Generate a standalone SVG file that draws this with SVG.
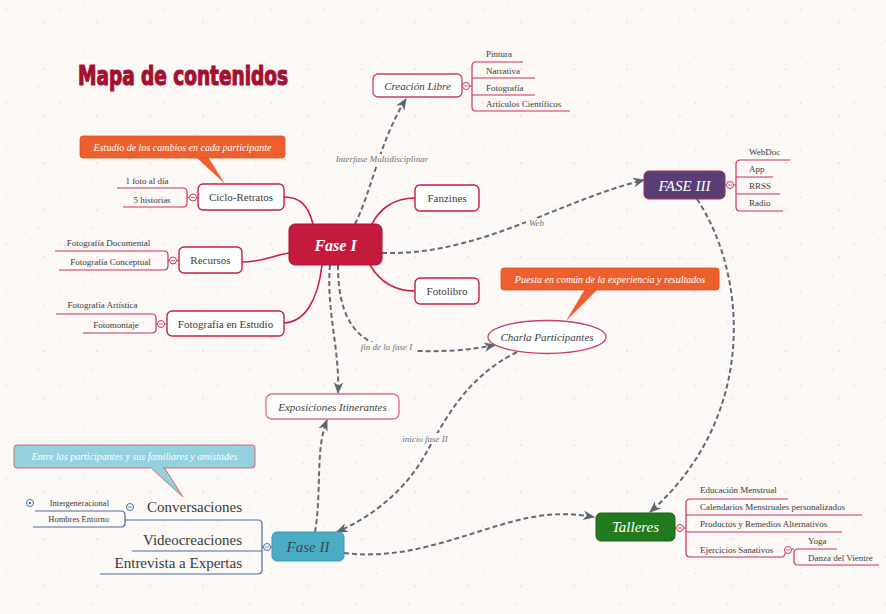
<svg xmlns="http://www.w3.org/2000/svg" width="886" height="614" viewBox="0 0 886 614">
<defs>
<pattern id="bgp" width="53" height="47" patternUnits="userSpaceOnUse">
<rect width="53" height="47" fill="#fcf8f6"/>
<ellipse cx="6" cy="9" rx="1" ry="0.6" fill="#f3cdb8"/>
<ellipse cx="31" cy="4" rx="0.8" ry="0.5" fill="#f5d8c8"/>
<ellipse cx="44" cy="22" rx="1.1" ry="0.6" fill="#f2c7b0"/>
<ellipse cx="17" cy="30" rx="0.7" ry="0.5" fill="#f5d5c4"/>
<ellipse cx="38" cy="40" rx="0.9" ry="0.5" fill="#f3cdb8"/>
<ellipse cx="9" cy="42" rx="0.6" ry="0.4" fill="#f6dccd"/>
<ellipse cx="26" cy="19" rx="0.6" ry="0.4" fill="#f6dccd"/>
</pattern>
<marker id="arr" markerUnits="userSpaceOnUse" markerWidth="12" markerHeight="12" viewBox="0 0 10 10" refX="9" refY="5" orient="auto">
<path d="M0,1 L10,5 L0,9 L3,5 z" fill="#5c6670"/>
</marker>
<style>
.t{font-family:"Liberation Serif","Times New Roman",serif;fill:#3a3a3a}
.n{font-size:11px;text-anchor:middle}
.i{font-style:italic}
.s{font-size:9px}
.m{text-anchor:middle}
.e{text-anchor:end}
.box{fill:#fff;stroke:#c8203f;stroke-width:1.4}
.br{fill:none;stroke:#c8335a;stroke-width:1.2}
.bb{fill:none;stroke:#4a6c9c;stroke-width:1.2}
.cc{fill:#fff;stroke:#c8335a;stroke-width:1}
.cb{fill:#fff;stroke:#4a6c9c;stroke-width:1}
.lk{fill:none;stroke:#c8203f;stroke-width:1.6}
.ds{fill:none;stroke:#5f6b78;stroke-width:2;stroke-dasharray:5 3;marker-end:url(#arr)}
.lbl{font-family:"Liberation Serif",serif;font-style:italic;font-size:9px;fill:#6a7480;text-anchor:middle}
.co{font-family:"Liberation Serif",serif;font-style:italic;font-size:10px;fill:#fff;text-anchor:middle}
.lb{fill:#fcf8f6}
</style>
</defs>
<rect width="886" height="614" fill="url(#bgp)"/>

<text x="78" y="85" font-family="'Liberation Sans Narrow','DejaVu Sans Condensed',sans-serif" font-weight="bold" font-size="26" textLength="210" lengthAdjust="spacingAndGlyphs" fill="#a50f30" stroke="#a50f30" stroke-width="1.1">Mapa de contenidos</text>

<g id="connectors">
<path class="lk" d="M284,197 C300,197 308,205 313,224"/>
<path class="lk" d="M242,262 C262,262 275,255 289,253"/>
<path class="lk" d="M284,323 C305,322 318,300 322,265"/>
<path class="lk" d="M372,224 C380,208 395,198 415,198"/>
<path class="lk" d="M370,265 C380,282 395,291 415,291"/>
<path class="ds" d="M355,224 C372,190 380,140 406,99"/>
<path class="ds" d="M382,253 C480,256 560,200 644,180"/>
<path class="ds" d="M697,199 C750,280 755,420 650,512"/>
<path class="ds" d="M338,265 C338,310 350,345 400,350 C440,353 470,350 495,345"/>
<path class="ds" d="M330,265 C326,310 340,350 338,393"/>
<path class="ds" d="M315,532 C322,490 315,450 327,420"/>
<path class="ds" d="M517,352 C465,378 445,420 425,455 C405,490 375,515 337,532"/>
<path class="ds" d="M344,553 C400,560 450,540 500,525 C540,513 565,512 594,517"/>
<rect class="lb" x="331" y="154" width="102" height="11"/>
<text class="lbl" x="382" y="162">Interfase Multidisciplinar</text>
<rect class="lb" x="526" y="218" width="21" height="11"/>
<text class="lbl" x="536.5" y="226">Web</text>
<rect class="lb" x="358" y="342" width="58" height="11"/>
<text class="lbl" x="386.5" y="350">fin de la fase I</text>
<rect class="lb" x="400" y="433" width="50" height="11"/>
<text class="lbl" x="425" y="442">inicio fase II</text>
</g>

<g id="callout1">
<polygon points="196,157 208,157 225,184" fill="#ee5f2e"/>
<rect x="80" y="136" width="205" height="22" rx="3" fill="#ee5f2e" stroke="#e05020" stroke-width="0.8"/>
<text class="co" x="182.5" y="151">Estudio de los cambios en cada participante</text>
</g>

<g id="fase1">
<rect x="289" y="224" width="93" height="41" rx="6" fill="#c41a3c" stroke="#a81232" stroke-width="1"/>
<text class="t" x="335.5" y="251" font-size="16" font-weight="bold" font-style="italic" text-anchor="middle" style="fill:#fff">Fase I</text>
</g>

<g id="ciclo">
<rect class="box" x="198" y="184" width="86" height="26" rx="5"/>
<text class="t n" x="241" y="201">Ciclo-Retratos</text>
<path class="br" d="M117,188 H183 Q187,188 187,192 V203 Q187,207 183,207 H123 M187,197.5 H189.5 M196.5,197.5 H198"/>
<circle class="cc" cx="193" cy="197.5" r="3.5"/>
<path d="M191,197.5 H195" stroke="#c8335a" stroke-width="0.8"/>
<text class="t s m" x="147" y="184">1 foto al día</text>
<text class="t s m" x="152" y="203">5 historias</text>
</g>

<g id="recursos">
<rect class="box" x="179" y="247" width="63" height="26" rx="5"/>
<text class="t n" x="210.5" y="264">Recursos</text>
<path class="br" d="M55,251 H164 Q168,251 168,255 V266 Q168,270 164,270 H59 M168,260.5 H169.5 M176.5,260.5 H179"/>
<circle class="cc" cx="173" cy="260.5" r="3.5"/>
<path d="M171,260.5 H175" stroke="#c8335a" stroke-width="0.8"/>
<text class="t s m" x="108.5" y="246">Fotografía Documental</text>
<text class="t s m" x="110.5" y="265">Fotografía Conceptual</text>
</g>

<g id="estudio">
<rect class="box" x="167" y="311" width="117" height="25" rx="5"/>
<text class="t n" x="225.5" y="327.5">Fotografía en Estudio</text>
<path class="br" d="M56,314 H152 Q156,314 156,318 V329 Q156,333 152,333 H83 M156,324 H157.5 M164.5,324 H167"/>
<circle class="cc" cx="161" cy="324" r="3.5"/>
<path d="M159,324 H163" stroke="#c8335a" stroke-width="0.8"/>
<text class="t s m" x="102.5" y="308">Fotografía Artística</text>
<text class="t s m" x="116" y="328">Fotomontaje</text>
</g>

<g id="fanzines">
<rect class="box" x="415" y="185" width="64" height="26" rx="5"/>
<text class="t n" x="447" y="202">Fanzines</text>
</g>

<g id="fotolibro">
<rect class="box" x="415" y="278" width="64" height="26" rx="5"/>
<text class="t n" x="447" y="295">Fotolibro</text>
</g>

<g id="creacion">
<rect x="373" y="74" width="89" height="23" rx="5" fill="#fff" stroke="#c84060" stroke-width="1.3"/>
<text class="t n i" x="417.5" y="89.5">Creación Libre</text>
<path class="br" d="M523,62 H476 Q472,62 472,66 V107 Q472,111 476,111 H570 M472,78 H535 M472,95 H535 M462,86 H462.5 M469.5,86 H472"/>
<circle class="cc" cx="466" cy="86" r="3.5"/>
<path d="M464,86 H468" stroke="#c8335a" stroke-width="0.8"/>
<text class="t s" x="486" y="57">Pintura</text>
<text class="t s" x="486" y="74">Narrativa</text>
<text class="t s" x="486" y="91">Fotografía</text>
<text class="t s" x="486" y="107">Artículos Científicos</text>
</g>

<g id="fase3">
<rect x="644" y="171" width="81" height="28" rx="5" fill="#5a3d75" stroke="#a0305a" stroke-width="1"/>
<text class="t" x="684.5" y="190.5" font-size="15" font-style="italic" text-anchor="middle" style="fill:#fff">FASE III</text>
<path class="br" d="M790,160 H740 Q736,160 736,164 V207 Q736,211 740,211 H783 M736,177 H773 M736,194 H780 M725,185 H726.5 M733.5,185 H736"/>
<circle class="cc" cx="730" cy="185" r="3.5"/>
<path d="M728,185 H732" stroke="#c8335a" stroke-width="0.8"/>
<text class="t s" x="749" y="155">WebDoc</text>
<text class="t s" x="749" y="172">App</text>
<text class="t s" x="749" y="189">RRSS</text>
<text class="t s" x="749" y="206">Radio</text>
</g>

<g id="callout2">
<polygon points="585,289 598,289 566,321" fill="#ee5f2e"/>
<rect x="501" y="268" width="218" height="22" rx="3" fill="#ee5f2e" stroke="#e05020" stroke-width="0.8"/>
<text class="co" x="610" y="283">Puesta en común de la experiencia y resultados</text>
</g>

<g id="charla">
<ellipse cx="547" cy="337" rx="59" ry="16.5" fill="#fff" stroke="#c84060" stroke-width="1.3"/>
<text class="t n i" x="547" y="341">Charla Participantes</text>
</g>

<g id="exposiciones">
<rect x="266" y="394" width="133" height="25" rx="6" fill="#fff" stroke="#d57080" stroke-width="1.3"/>
<text class="t n i" x="332.5" y="410.5">Exposiciones Itinerantes</text>
</g>

<g id="callout3">
<polygon points="150,467 164,467 183,497" fill="#94d0de" stroke="#d05060" stroke-width="0.8"/>
<rect x="14" y="445" width="241" height="23" rx="3" fill="#94d0de" stroke="#d05060" stroke-width="0.8"/>
<rect x="151" y="466" width="12" height="3" fill="#94d0de"/>
<text class="co" x="134.5" y="460">Entre las participantes y sus familiares y amistades</text>
</g>

<g id="fase2">
<rect x="272" y="532" width="72" height="29" rx="5" fill="#4badc5" stroke="#3f9ab2" stroke-width="1"/>
<text class="t" x="308" y="552" font-size="15" font-style="italic" text-anchor="middle" style="fill:#3c4650">Fase II</text>
<path class="bb" d="M125,520 H258 Q262,520 262,524 V570 Q262,574 258,574 H100 M262,551 H132 M262,547 H263.5 M270.5,547 H272"/>
<circle class="cb" cx="267" cy="547" r="3.5"/>
<path d="M265,547 H269" stroke="#4a6c9c" stroke-width="0.8"/>
<text class="t e" x="242" y="512" font-size="15">Conversaciones</text>
<text class="t e" x="242" y="545" font-size="15">Videocreaciones</text>
<text class="t e" x="242" y="568" font-size="15">Entrevista a Expertas</text>
<path class="bb" d="M35,511 H121 Q125,511 125,515 V523 Q125,527 121,527 H33"/>
<circle class="cb" cx="130" cy="507" r="3.5"/>
<path d="M128,507 H132" stroke="#4a6c9c" stroke-width="0.8"/>
<text class="t e" x="109" y="506" font-size="8.5">Intergeneracional</text>
<text class="t e" x="109" y="522" font-size="8.5">Hombres Entorno</text>
<circle class="cb" cx="30" cy="503" r="3.5"/>
<circle cx="30" cy="503" r="1.2" fill="#4a6c9c"/>
</g>

<g id="talleres">
<rect x="596" y="513" width="79" height="28" rx="5" fill="#227a1e" stroke="#1a6016" stroke-width="1"/>
<text class="t" x="635.5" y="532" font-size="15" font-style="italic" text-anchor="middle" style="fill:#fff">Talleres</text>
<path class="br" d="M788,499 H690 Q686,499 686,503 V553 Q686,557 690,557 H782 M686,515 H862 M686,532 H842 M675,528 H676.5 M683.5,528 H686"/>
<circle class="cc" cx="680" cy="528" r="3.5"/>
<path d="M678,528 H682" stroke="#c8335a" stroke-width="0.8"/>
<text class="t s" x="700" y="493">Educación Menstrual</text>
<text class="t s" x="700" y="510">Calendarios Menstruales personalizados</text>
<text class="t s" x="700" y="527">Productos y Remedios Alternativos</text>
<text class="t s" x="700" y="553">Ejercicios Sanativos</text>
<path class="br" d="M791.5,549 H794 M837,549 H798 Q794,549 794,553 V561 Q794,565 798,565 H879 M782,557 Q784.5,557 785.5,552"/>
<circle class="cc" cx="788" cy="550" r="3.5"/>
<path d="M786,550 H790" stroke="#c8335a" stroke-width="0.8"/>
<text class="t s" x="808" y="544">Yoga</text>
<text class="t s" x="808" y="561">Danza del Vientre</text>
</g>
</svg>
